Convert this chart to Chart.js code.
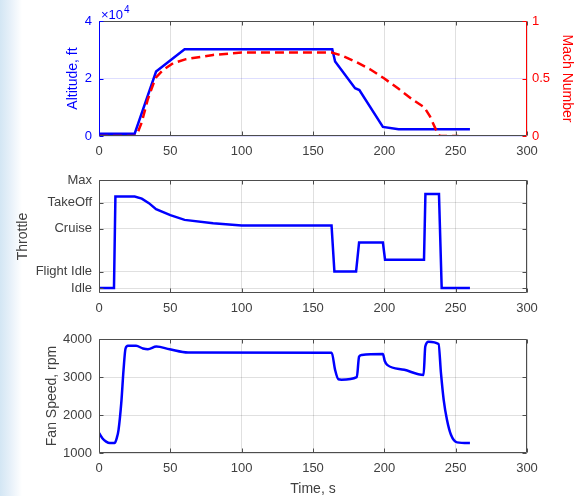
<!DOCTYPE html>
<html>
<head>
<meta charset="utf-8">
<script src="https://cdn.jsdelivr.net/npm/chart.js@4.4.0/dist/chart.umd.min.js"></script>
<style>
  html, body { margin: 0; padding: 0; background: #fff; }
  #page { position: relative; width: 583px; height: 496px; overflow: hidden; background: #fff; }
  #strip { position: absolute; left: 0; top: 0; width: 22px; height: 496px;
           background: linear-gradient(to right, #d3e6f4, #e6f0f9 45%, #ffffff); }
  canvas { position: absolute; left: 0; }
</style>
</head>
<body>
<div id="page">
  <div id="strip"></div>
  <canvas id="altChart" width="583" height="160" style="top:0px"></canvas>
  <canvas id="throttleChart" width="583" height="160" style="top:160px"></canvas>
  <canvas id="fanChart" width="583" height="176" style="top:320px"></canvas>
</div>
<script>
// --- data ---
const xTicks = [0, 50, 100, 150, 200, 250, 300];

const altTime = [0, 25, 40, 60, 163.5, 165.5, 179.5, 182.5, 199, 210, 260];
const altitude = [800, 800, 22400, 30200, 30200, 25900, 16600, 16000, 3150, 2340, 2340];

const machTime = [0, 25, 26.5, 30, 34, 38, 40, 45, 52, 61, 80, 100, 163, 170, 180, 190, 200, 210, 220, 228, 232, 236, 238.8, 252];
const mach = [0, 0, 0.01, 0.12, 0.31, 0.45, 0.51, 0.575, 0.633, 0.668, 0.705, 0.726, 0.726, 0.70, 0.645, 0.58, 0.5, 0.41, 0.315, 0.25, 0.17, 0.06, 0, 0];

const throttleLabels = ['Idle', 'Flight Idle', 'Cruise', 'TakeOff', 'Max'];
const throttleLevels = [4.4, 19, 57, 80, 100];
const throttleTime = [0, 10.5, 11.5, 25, 30, 35, 40, 50, 60, 80, 100, 163, 165, 180.2, 182.3, 199, 200.5, 227.8, 228.8, 238.3, 240.2, 260];
const throttle = [4.4, 4.4, 85.3, 85.3, 83.5, 79.5, 74.2, 68.9, 64.7, 61.8, 59.7, 59.7, 19, 19, 44.7, 44.7, 29.4, 29.4, 87.6, 87.6, 4.4, 4.4];

const fanTime = [0, 2.5, 5, 7.5, 10.9, 12.5, 13.7, 15.6, 17.2, 18.6, 20.3, 26, 30.8, 34.3, 40.2, 49.5, 62.4, 163.1, 165.5, 167.8, 170, 180.7, 182.3, 184.2, 199, 200.3, 202, 214, 227.5, 228.7, 231, 238, 239.7, 241.6, 243.9, 246.7, 251, 260];
const fanSpeed = [1525, 1380, 1300, 1260, 1260, 1400, 1610, 2310, 3190, 3750, 3820, 3820, 3750, 3730, 3800, 3730, 3645, 3640, 3185, 2940, 2930, 2995, 3535, 3580, 3605, 3420, 3320, 3190, 3055, 3800, 3930, 3870, 3100, 2400, 1875, 1480, 1280, 1260];

// --- shared styling ---
const FONT = 'Arial, "Liberation Sans", Helvetica, sans-serif';
const tickFont = { family: FONT, size: 13 };
const titleFont = { family: FONT, size: 14, lineHeight: 1 };
const axisGrey = '#4d4d4d';
const tickGrey = '#404040';
const gridGrey = 'rgba(0,0,0,0.12)';
const BLUE = '#0000ff';
const RED = '#ff0000';

const pts = (xs, ys) => xs.map((x, i) => ({ x: x, y: ys[i] }));

// box around the plot area with small inward tick marks (MATLAB style)
const framePlugin = {
  id: 'frame',
  afterDatasetsDraw(chart, args, opts) {
    const { ctx, chartArea: a, scales } = chart;
    const L = Math.round(a.left) + 0.5, R = Math.round(a.right) - 0.5;
    const T = Math.round(a.top) + 0.5, B = Math.round(a.bottom) - 0.5;
    const len = 4;
    ctx.save();
    ctx.lineWidth = 1;
    ctx.strokeStyle = axisGrey;
    ctx.beginPath();
    ctx.moveTo(L, T); ctx.lineTo(R, T);
    ctx.moveTo(L, B); ctx.lineTo(R, B);
    scales.x.ticks.forEach(t => {
      const px = Math.round(scales.x.getPixelForValue(t.value)) + 0.5;
      ctx.moveTo(px, B); ctx.lineTo(px, B - len);
      ctx.moveTo(px, T); ctx.lineTo(px, T + len);
    });
    ctx.stroke();

    const yl = scales.y;
    const yr = scales.y1 || scales.y;
    ctx.strokeStyle = opts.left || axisGrey;
    ctx.beginPath();
    ctx.moveTo(L, T); ctx.lineTo(L, B);
    yl.ticks.forEach(t => {
      const py = Math.round(yl.getPixelForValue(t.value)) + 0.5;
      ctx.moveTo(L, py); ctx.lineTo(L + len, py);
      if (!scales.y1) { ctx.moveTo(R, py); ctx.lineTo(R - len, py); }
    });
    ctx.stroke();

    ctx.strokeStyle = opts.right || axisGrey;
    ctx.beginPath();
    ctx.moveTo(R, T); ctx.lineTo(R, B);
    if (scales.y1) {
      yr.ticks.forEach(t => {
        const py = Math.round(yr.getPixelForValue(t.value)) + 0.5;
        ctx.moveTo(R, py); ctx.lineTo(R - len, py);
      });
    }
    ctx.stroke();

    if (opts.exponent) {
      ctx.fillStyle = BLUE;
      ctx.textBaseline = 'alphabetic';
      ctx.font = '13px ' + FONT;
      ctx.fillText('\u00d710', a.left + 2, 19);
      const w = ctx.measureText('\u00d710').width;
      ctx.font = '10px ' + FONT;
      ctx.fillText('4', a.left + 2 + w + 1, 13);
    }
    ctx.restore();
  }
};

function xScale(height, title) {
  return {
    type: 'linear', min: 0, max: 300,
    afterBuildTicks: s => { s.ticks = xTicks.map(v => ({ value: v })); },
    afterFit: s => { s.height = height; },
    grid: { color: gridGrey, drawTicks: false },
    border: { display: false },
    ticks: { font: tickFont, color: tickGrey, padding: 8, maxRotation: 0 },
    title: title ? { display: true, text: title, font: titleFont, color: tickGrey, padding: { top: 0, bottom: 0 } }
                 : { display: false }
  };
}

function baseOptions(padTop, padRight) {
  return {
    responsive: false,
    animation: false,
    layout: { padding: { top: padTop, left: 0, right: padRight, bottom: 0 } },
    plugins: { legend: { display: false }, tooltip: { enabled: false } },
    elements: { point: { radius: 0 } }
  };
}

// --- altitude / mach ---
const altOpts = baseOptions(21, 0);
altOpts.plugins.frame = { left: BLUE, right: RED, exponent: true };
altOpts.scales = {
  x: xScale(24),
  y: {
    type: 'linear', position: 'left', min: 0, max: 40000,
    afterBuildTicks: s => { s.ticks = [0, 20000, 40000].map(v => ({ value: v })); },
    afterFit: s => { s.width = 99; },
    grid: { color: 'rgba(0,0,255,0.13)', drawTicks: false },
    border: { display: false },
    ticks: { font: tickFont, color: BLUE, padding: 7, callback: v => v / 10000 },
    title: { display: true, text: 'Altitude, ft', font: titleFont, color: BLUE, padding: { top: 66, bottom: 0 } }
  },
  y1: {
    type: 'linear', position: 'right', min: 0, max: 1,
    afterBuildTicks: s => { s.ticks = [0, 0.5, 1].map(v => ({ value: v })); },
    afterFit: s => { s.width = 56; },
    grid: { drawOnChartArea: false, drawTicks: false },
    border: { display: false },
    ticks: { font: tickFont, color: RED, padding: 5, callback: v => String(v) },
    title: { display: true, text: 'Mach Number', font: titleFont, color: RED, padding: { top: 9, bottom: 0 } }
  }
};
new Chart(document.getElementById('altChart'), {
  type: 'line',
  data: {
    datasets: [
      { label: 'Mach', data: pts(machTime, mach), yAxisID: 'y1', borderColor: RED, borderWidth: 2.5,
        borderDash: [9, 5], tension: 0, order: 0 },
      { label: 'Altitude', data: pts(altTime, altitude), yAxisID: 'y', borderColor: BLUE, borderWidth: 2.5,
        tension: 0, order: 1 }
    ]
  },
  options: altOpts,
  plugins: [framePlugin]
});

// --- throttle ---
const thrOpts = baseOptions(20, 56);
thrOpts.plugins.frame = {};
thrOpts.scales = {
  x: xScale(27),
  y: {
    type: 'linear', min: 0, max: 100,
    afterBuildTicks: s => { s.ticks = throttleLevels.map(v => ({ value: v })); },
    afterFit: s => { s.width = 99; },
    grid: { color: gridGrey, drawTicks: false },
    border: { display: false },
    ticks: {
      font: tickFont, color: tickGrey, padding: 7,
      callback: v => throttleLabels[throttleLevels.indexOf(v)]
    },
    title: { display: true, text: 'Throttle', font: titleFont, color: tickGrey, padding: { top: 16, bottom: 0 } }
  }
};
new Chart(document.getElementById('throttleChart'), {
  type: 'line',
  data: {
    datasets: [{ label: 'Throttle', data: pts(throttleTime, throttle), borderColor: BLUE, borderWidth: 2.5, tension: 0 }]
  },
  options: thrOpts,
  plugins: [framePlugin]
});

// --- fan speed ---
const fanOpts = baseOptions(19, 56);
fanOpts.plugins.frame = {};
fanOpts.scales = {
  x: xScale(43, 'Time, s'),
  y: {
    type: 'linear', min: 1000, max: 4000,
    afterBuildTicks: s => { s.ticks = [1000, 2000, 3000, 4000].map(v => ({ value: v })); },
    afterFit: s => { s.width = 99; },
    grid: { color: gridGrey, drawTicks: false },
    border: { display: false },
    ticks: { font: tickFont, color: tickGrey, padding: 7, callback: v => String(v) },
    title: { display: true, text: 'Fan Speed, rpm', font: titleFont, color: tickGrey, padding: { top: 45, bottom: 0 } }
  }
};
new Chart(document.getElementById('fanChart'), {
  type: 'line',
  data: {
    datasets: [{ label: 'Fan Speed', data: pts(fanTime, fanSpeed), borderColor: BLUE, borderWidth: 2.5,
                 cubicInterpolationMode: 'monotone' }]
  },
  options: fanOpts,
  plugins: [framePlugin]
});
</script>
</body>
</html>
